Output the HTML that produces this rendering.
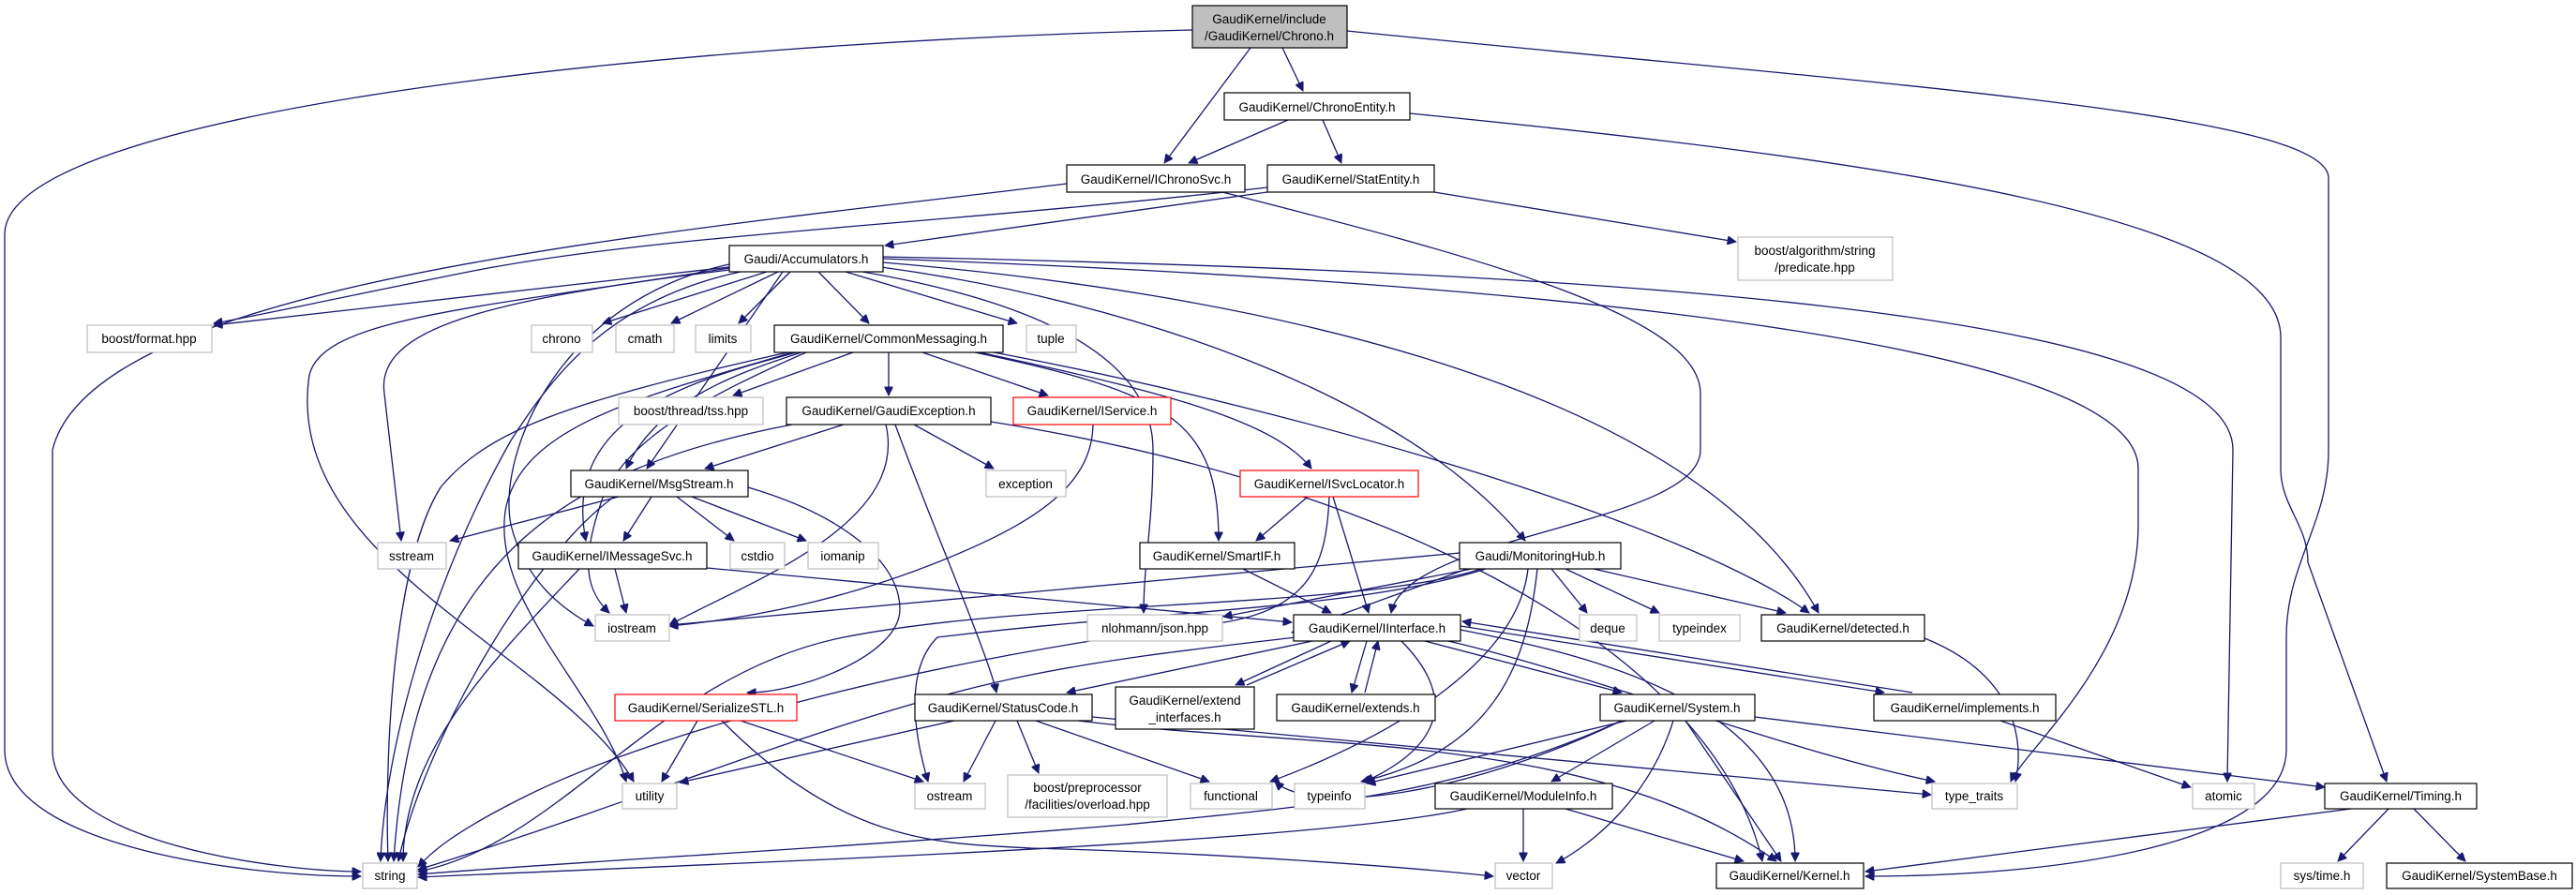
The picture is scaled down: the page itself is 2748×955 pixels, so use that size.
<!DOCTYPE html>
<html><head><meta charset="utf-8"><style>
html,body{margin:0;padding:0;background:#fff}
svg{display:block}
text{font-family:"Liberation Sans",sans-serif;font-size:13.5px;fill:#000;text-anchor:middle}
.e{fill:none;stroke:#191970;stroke-width:1.3}
.n{fill:#fff;stroke:#000;stroke-width:1.2}
.g{fill:#fff;stroke:#bfbfbf;stroke-width:1.2}
.r{fill:#fff;stroke:#ff0000;stroke-width:1.2}
</style></head><body>
<svg width="2748" height="955" viewBox="0 0 2748 955" xmlns="http://www.w3.org/2000/svg">
<defs><marker id="a" viewBox="0 0 10 10" refX="10" refY="5" markerWidth="11" markerHeight="9" markerUnits="userSpaceOnUse" orient="auto"><path d="M0,0 L10,5 L0,10 z" fill="#191970" stroke="#191970"/></marker></defs>
<g class="e" marker-end="url(#a)">
<path d="M1272,32 C700,45 5,120 5,250 L5,800 C5,900 250,935 385,935"/>
<path d="M1334,51 L1242,174"/>
<path d="M1368,51 L1390,97"/>
<path d="M1437,33 C2000,90 2484,120 2484,190 L2484,480 C2484,560 2439,600 2439,680 L2439,800 C2439,900 2200,935 1990,935"/>
<path d="M1374,128 L1268,174"/>
<path d="M1411,128 L1431,174"/>
<path d="M1504,121 C2000,170 2433,230 2433,360 L2433,500 C2433,540 2462,560 2462,600 L2546,834"/>
<path d="M1352,205 L944,262"/>
<path d="M1352,200 C1000,240 700,250 500,290 C350,320 260,340 228,345"/>
<path d="M1530,205 L1852,258"/>
<path d="M1304,205 C1600,280 1814,340 1814,420 L1814,480 C1814,560 1500,570 1484,654"/>
<path d="M1138,196 C700,250 100,300 56,480 L56,800 C56,900 300,930 385,930"/>
<path d="M778,285 L228,347"/>
<path d="M818,290 L643,345"/>
<path d="M830,290 L716,345"/>
<path d="M843,290 L788,345"/>
<path d="M873,290 L927,345"/>
<path d="M902,290 L1085,345"/>
<path d="M790,290 C650,320 590,400 545,470 C460,620 410,800 406,919"/>
<path d="M778,288 C520,320 400,350 410,420 L428,577"/>
<path d="M778,286 C500,330 345,340 330,400 C300,600 600,700 676,834"/>
<path d="M778,282 C600,320 530,480 545,560 C560,620 600,650 633,668"/>
<path d="M835,290 L690,500"/>
<path d="M920,290 C1150,330 1230,400 1230,480 C1230,560 1220,600 1220,654"/>
<path d="M940,285 C1200,320 1500,420 1627,577"/>
<path d="M942,280 C1300,310 1800,400 1940,654"/>
<path d="M942,276 C1600,300 2281,360 2281,500 L2281,560 C2281,700 2160,800 2145,834"/>
<path d="M942,274 C1700,290 2382,330 2382,480 L2376,834"/>
<path d="M910,376 L782,422"/>
<path d="M948,376 L948,422"/>
<path d="M984,376 L1118,422"/>
<path d="M855,376 C780,400 700,430 668,500"/>
<path d="M850,376 C720,410 600,450 625,577"/>
<path d="M840,376 C600,430 520,460 470,520 C420,600 410,800 414,919"/>
<path d="M845,376 C700,420 560,450 540,540 C520,640 640,740 668,834"/>
<path d="M860,376 C760,420 660,470 640,540 C620,600 625,630 650,654"/>
<path d="M1040,376 C1250,420 1300,450 1300,577"/>
<path d="M1045,376 C1250,420 1360,450 1399,500"/>
<path d="M1060,376 C1400,440 1800,560 1930,654"/>
<path d="M900,453 L752,500"/>
<path d="M975,453 L1060,500"/>
<path d="M955,453 C990,550 1055,700 1063,739"/>
<path d="M945,453 C970,560 800,620 714,667"/>
<path d="M845,453 C600,500 440,600 420,919"/>
<path d="M1057,450 C1500,520 1830,700 1880,919"/>
<path d="M1166,453 C1165,520 1100,560 1000,600 C900,640 800,660 714,668"/>
<path d="M660,530 L480,577"/>
<path d="M695,530 L665,577"/>
<path d="M722,530 L783,577"/>
<path d="M738,530 L860,577"/>
<path d="M798,520 C900,550 960,600 960,650 C960,700 850,740 797,739"/>
<path d="M655,530 C560,600 450,800 425,919"/>
<path d="M656,607 L668,654"/>
<path d="M618,607 C530,700 430,800 430,919"/>
<path d="M754,606 L1378,664"/>
<path d="M1326,607 L1420,654"/>
<path d="M1395,530 L1340,577"/>
<path d="M1422,530 L1460,654"/>
<path d="M1418,530 C1415,600 1400,650 1300,665 C1000,700 700,780 560,850 C480,890 460,910 446,925"/>
<path d="M1557,590 L714,667"/>
<path d="M1570,607 L1305,658"/>
<path d="M1580,607 C1450,650 1100,640 900,680 C700,720 600,900 446,930"/>
<path d="M1585,607 C1450,650 1250,650 1000,680 C960,720 980,800 990,834"/>
<path d="M1640,607 C1630,700 1600,800 1452,834"/>
<path d="M1630,607 C1620,700 1500,780 1355,834"/>
<path d="M1655,607 L1693,654"/>
<path d="M1670,607 L1770,654"/>
<path d="M1700,607 L1905,654"/>
<path d="M1565,607 L1378,675"/>
<path d="M1400,684 L1138,739"/>
<path d="M1420,684 L1318,731"/>
<path d="M1330,731 L1440,684"/>
<path d="M1458,684 L1442,739"/>
<path d="M1456,739 L1470,684"/>
<path d="M1520,684 L1730,739"/>
<path d="M1495,684 C1560,750 1530,800 1456,834"/>
<path d="M1545,684 C1700,720 1900,800 2064,834"/>
<path d="M1558,672 C1700,700 1915,750 1915,919"/>
<path d="M1382,680 C1300,690 1200,700 1100,720 C900,760 700,850 446,928"/>
<path d="M2040,739 L1560,663"/>
<path d="M1558,668 L2010,739"/>
<path d="M2053,681 C2150,720 2160,790 2150,834"/>
<path d="M1018,769 L725,835"/>
<path d="M1062,769 L1028,834"/>
<path d="M1085,769 L1108,825"/>
<path d="M1105,769 L1290,834"/>
<path d="M1165,765 L2060,848"/>
<path d="M1150,769 C1400,800 1700,780 1895,919"/>
<path d="M744,769 L706,834"/>
<path d="M790,769 L985,834"/>
<path d="M770,769 C900,900 1000,900 1100,905 C1300,910 1500,925 1593,935"/>
<path d="M2134,769 L2337,840"/>
<path d="M1735,769 L1458,836"/>
<path d="M1730,769 C1560,850 1400,870 1360,834"/>
<path d="M1730,769 C1550,850 1400,860 1200,880 C900,905 600,920 446,933"/>
<path d="M1765,769 L1655,834"/>
<path d="M1785,769 C1760,850 1700,900 1660,921"/>
<path d="M1798,769 L1900,919"/>
<path d="M1872,765 L2480,840"/>
<path d="M1565,863 C1400,900 800,920 446,936"/>
<path d="M1625,863 L1625,919"/>
<path d="M1670,863 L1860,919"/>
<path d="M2508,863 L1990,930"/>
<path d="M2548,863 L2494,919"/>
<path d="M2575,863 L2630,919"/>
</g>
<!-- nodes -->
<rect x="1272" y="6" width="165" height="45" fill="#bfbfbf" stroke="#000" stroke-width="1.2"/>
<text x="1354" y="25">GaudiKernel/include</text><text x="1354" y="43">/GaudiKernel/Chrono.h</text>
<rect class="n" x="1306" y="99" width="198" height="29"/><text x="1405" y="119">GaudiKernel/ChronoEntity.h</text>
<rect class="n" x="1138" y="176" width="190" height="29"/><text x="1233" y="196">GaudiKernel/IChronoSvc.h</text>
<rect class="n" x="1352" y="176" width="178" height="29"/><text x="1441" y="196">GaudiKernel/StatEntity.h</text>
<rect class="g" x="1854" y="253" width="165" height="46"/><text x="1936" y="272">boost/algorithm/string</text><text x="1936" y="290">/predicate.hpp</text>
<rect class="n" x="778" y="262" width="164" height="28"/><text x="860" y="281">Gaudi/Accumulators.h</text>
<rect class="g" x="93" y="347" width="133" height="29"/><text x="159" y="366">boost/format.hpp</text>
<rect class="g" x="567" y="347" width="65" height="29"/><text x="599" y="366">chrono</text>
<rect class="g" x="657" y="347" width="62" height="29"/><text x="688" y="366">cmath</text>
<rect class="g" x="742" y="347" width="59" height="29"/><text x="771" y="366">limits</text>
<rect class="n" x="826" y="347" width="244" height="29"/><text x="948" y="366">GaudiKernel/CommonMessaging.h</text>
<rect class="g" x="1095" y="347" width="53" height="29"/><text x="1121" y="366">tuple</text>
<rect class="g" x="660" y="424" width="154" height="29"/><text x="737" y="443">boost/thread/tss.hpp</text>
<rect class="n" x="839" y="424" width="218" height="29"/><text x="948" y="443">GaudiKernel/GaudiException.h</text>
<rect class="r" x="1081" y="424" width="168" height="29"/><text x="1165" y="443">GaudiKernel/IService.h</text>
<rect class="n" x="609" y="502" width="189" height="28"/><text x="703" y="521">GaudiKernel/MsgStream.h</text>
<rect class="g" x="1052" y="502" width="85" height="28"/><text x="1094" y="521">exception</text>
<rect class="r" x="1323" y="502" width="190" height="28"/><text x="1418" y="521">GaudiKernel/ISvcLocator.h</text>
<rect class="g" x="403" y="579" width="73" height="28"/><text x="439" y="598">sstream</text>
<rect class="n" x="553" y="579" width="201" height="28"/><text x="653" y="598">GaudiKernel/IMessageSvc.h</text>
<rect class="g" x="779" y="579" width="58" height="28"/><text x="808" y="598">cstdio</text>
<rect class="g" x="862" y="579" width="75" height="28"/><text x="899" y="598">iomanip</text>
<rect class="n" x="1216" y="579" width="165" height="28"/><text x="1298" y="598">GaudiKernel/SmartIF.h</text>
<rect class="n" x="1557" y="579" width="172" height="28"/><text x="1643" y="598">Gaudi/MonitoringHub.h</text>
<rect class="g" x="635" y="656" width="79" height="28"/><text x="674" y="675">iostream</text>
<rect class="g" x="1160" y="656" width="144" height="28"/><text x="1232" y="675">nlohmann/json.hpp</text>
<rect class="n" x="1380" y="656" width="178" height="28"/><text x="1469" y="675">GaudiKernel/IInterface.h</text>
<rect class="g" x="1685" y="656" width="61" height="28"/><text x="1715" y="675">deque</text>
<rect class="g" x="1770" y="656" width="86" height="28"/><text x="1813" y="675">typeindex</text>
<rect class="n" x="1879" y="656" width="174" height="28"/><text x="1966" y="675">GaudiKernel/detected.h</text>
<rect class="r" x="656" y="741" width="194" height="28"/><text x="753" y="760">GaudiKernel/SerializeSTL.h</text>
<rect class="n" x="976" y="741" width="189" height="28"/><text x="1070" y="760">GaudiKernel/StatusCode.h</text>
<rect class="n" x="1190" y="733" width="148" height="45"/><text x="1264" y="752">GaudiKernel/extend</text><text x="1264" y="770">_interfaces.h</text>
<rect class="n" x="1362" y="741" width="169" height="28"/><text x="1446" y="760">GaudiKernel/extends.h</text>
<rect class="n" x="1707" y="741" width="165" height="28"/><text x="1789" y="760">GaudiKernel/System.h</text>
<rect class="n" x="1999" y="741" width="194" height="28"/><text x="2096" y="760">GaudiKernel/implements.h</text>
<rect class="g" x="664" y="836" width="58" height="27"/><text x="693" y="854">utility</text>
<rect class="g" x="976" y="836" width="75" height="27"/><text x="1013" y="854">ostream</text>
<rect class="g" x="1075" y="827" width="170" height="45"/><text x="1160" y="845">boost/preprocessor</text><text x="1160" y="863">/facilities/overload.hpp</text>
<rect class="g" x="1270" y="836" width="87" height="27"/><text x="1313" y="854">functional</text>
<rect class="g" x="1381" y="836" width="75" height="27"/><text x="1418" y="854">typeinfo</text>
<rect class="n" x="1531" y="836" width="189" height="27"/><text x="1625" y="854">GaudiKernel/ModuleInfo.h</text>
<rect class="g" x="2061" y="836" width="91" height="27"/><text x="2106" y="854">type_traits</text>
<rect class="g" x="2339" y="836" width="66" height="27"/><text x="2372" y="854">atomic</text>
<rect class="n" x="2480" y="836" width="162" height="27"/><text x="2561" y="854">GaudiKernel/Timing.h</text>
<rect class="g" x="387" y="921" width="58" height="27"/><text x="416" y="939">string</text>
<rect class="g" x="1595" y="921" width="61" height="27"/><text x="1625" y="939">vector</text>
<rect class="n" x="1831" y="921" width="157" height="27"/><text x="1909" y="939">GaudiKernel/Kernel.h</text>
<rect class="g" x="2433" y="921" width="88" height="27"/><text x="2477" y="939">sys/time.h</text>
<rect class="n" x="2546" y="921" width="198" height="27"/><text x="2645" y="939">GaudiKernel/SystemBase.h</text>
</svg>
</body></html>
